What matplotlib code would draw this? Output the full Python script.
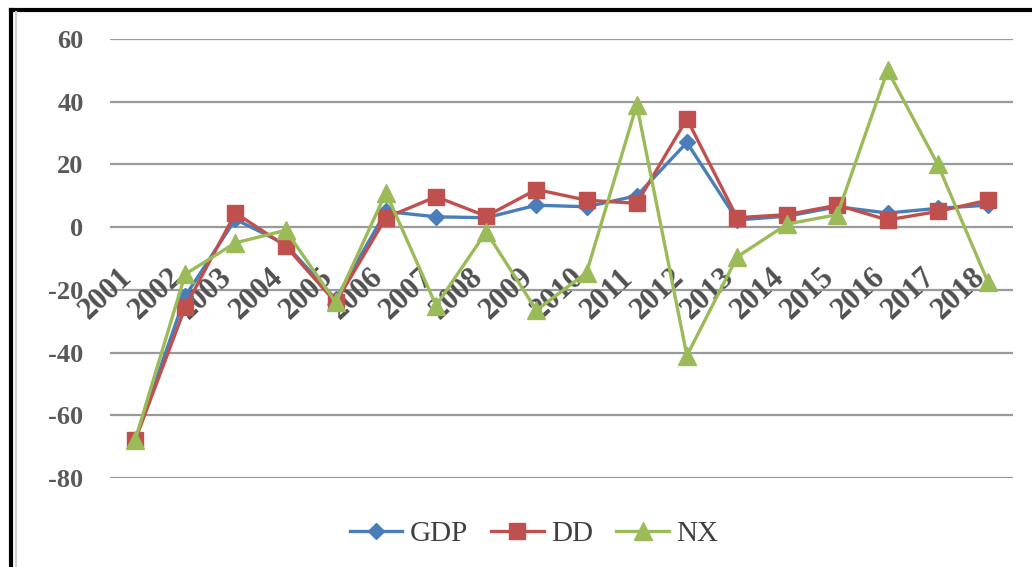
import matplotlib
matplotlib.use("Agg")
import matplotlib.pyplot as plt
from matplotlib.lines import Line2D
from matplotlib.transforms import offset_copy

years = [str(y) for y in range(2001, 2019)]
gdp = [-68, -22, 2.5, -5.5, -23, 5, 3.3, 3, 7, 6.5, 10, 27, 2.3, 3.5, 6.5, 4.5, 6, 7]
dd = [-68, -25.5, 4.5, -6, -24, 3, 9.7, 3.5, 12, 8.6, 7.6, 34.5, 3, 4, 7, 2.3, 5, 8.6]
nx = [-68, -15, -5, -1, -24, 11, -25, -1.5, -26.5, -14.5, 39, -41, -9.5, 1, 4, 50, 20, -17.5]
y_ticks = [60, 40, 20, 0, -20, -40, -60, -80]

W, H = 1032, 567
fig = plt.figure(figsize=(W / 100, H / 100), dpi=100)
fig.patch.set_facecolor("white")

ax = fig.add_axes([110 / W, 1 - 478 / H, (1013 - 110) / W, (478 - 39) / H])
ax.set_xlim(-0.5, len(years) - 0.5)
ax.set_ylim(-80, 60)
for s in ax.spines.values():
    s.set_visible(False)

for yv in y_ticks:
    ax.axhline(yv, color="#9a9a9a", lw=1.6, zorder=1)

ax.set_yticks(y_ticks)
ax.set_yticklabels([str(v) for v in y_ticks], family="Liberation Serif",
                   fontweight="bold", fontsize=19, color="#595959")
ax.tick_params(axis="y", length=0, pad=19)
ax.set_xticks([])

x = list(range(len(years)))
ax.plot(x, gdp, color="#4a7ebb", lw=2.4, marker="D", ms=8, label="GDP", zorder=3)
ax.plot(x, dd, color="#c0504d", lw=2.4, marker="s", ms=12, label="DD", zorder=4)
ax.plot(x, nx, color="#9bbb59", lw=2.4, marker="^", ms=13, label="NX", zorder=5)

# category labels sit on the -20 line, rotated
lab_tr = offset_copy(ax.transData, fig=fig, x=-21, y=-3, units="points")
for i, yr in enumerate(years):
    ax.text(i, -20, yr, transform=lab_tr, rotation=43, rotation_mode="anchor",
            ha="center", va="center", family="Liberation Serif",
            fontweight="bold", fontsize=22, color="#505050", zorder=2)

fig.legend(loc="center", bbox_to_anchor=(534 / W, 1 - 534 / H), ncol=3, frameon=False,
           prop={"family": "Liberation Serif", "size": 21}, labelcolor="#404040",
           handlelength=1.8, handletextpad=0.25, columnspacing=0.8)

# outer frame (left and top edges)
fig.add_artist(Line2D([11 / W, 11 / W], [0, 1 - 10 / H], color="black", lw=3,
                      transform=fig.transFigure))
fig.add_artist(Line2D([11 / W, 1], [1 - 10 / H, 1 - 10 / H], color="black", lw=3,
                      transform=fig.transFigure))
fig.add_artist(Line2D([16 / W, 16 / W], [0, 1 - 12 / H], color="#d0d0d0", lw=1.5,
                      transform=fig.transFigure))

fig.savefig("out.png", dpi=100)
